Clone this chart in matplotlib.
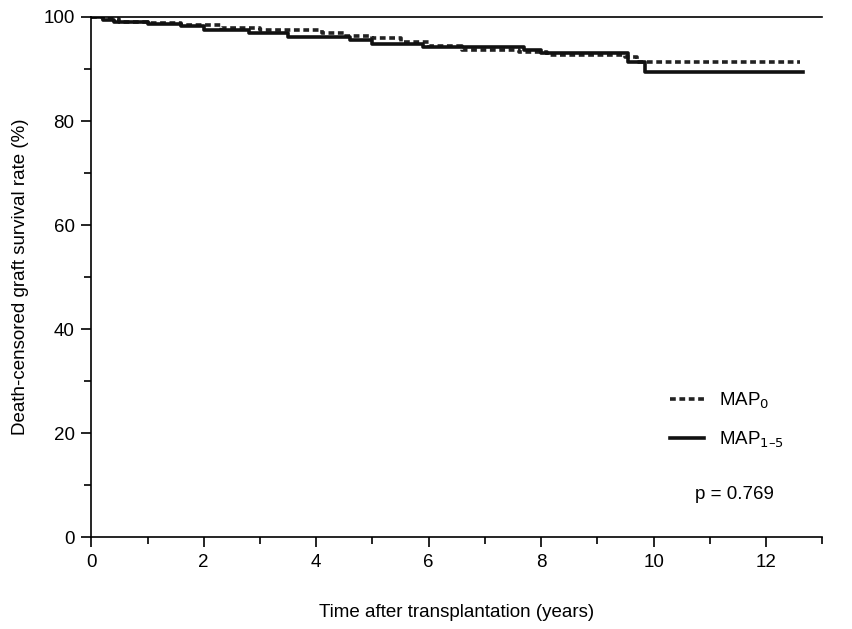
import matplotlib.pyplot as plt
from matplotlib.ticker import MultipleLocator

plt.rcParams['font.family'] = ['Liberation Sans', 'DejaVu Sans']

# step curves (years, survival %)
map0_t = [0, 0.2, 0.5, 1.0, 1.6, 2.3, 3.0, 4.1, 4.5, 5.0, 5.5, 6.0, 6.6, 7.6, 8.1, 9.5, 9.7, 12.6]
map0_s = [100, 99.6, 99.1, 98.8, 98.4, 97.9, 97.5, 97.0, 96.4, 95.9, 95.2, 94.4, 93.7, 93.3, 92.7, 92.3, 91.3, 91.3]
map15_t = [0, 0.2, 0.4, 1.0, 1.6, 2.0, 2.8, 3.5, 4.6, 5.0, 5.9, 7.7, 8.0, 9.55, 9.85, 12.65]
map15_s = [100, 99.5, 99.0, 98.7, 98.2, 97.5, 96.9, 96.2, 95.6, 94.8, 94.2, 93.6, 93.1, 91.3, 89.5, 89.5]

fs = 13.5
fig = plt.figure(figsize=(8.53, 6.29), dpi=100)
ax = fig.add_axes([0.107, 0.146, 0.857, 0.827])
ax.step(map0_t, map0_s, where='post', color='#222222', lw=2.6, linestyle=(0, (1.6, 1.0)), label='MAP$_0$')
ax.step(map15_t, map15_s, where='post', color='#111111', lw=2.6, label='MAP$_{1\u20135}$')

ax.set_xlim(0, 13)
ax.set_ylim(0, 100)
ax.xaxis.set_major_locator(MultipleLocator(2))
ax.xaxis.set_minor_locator(MultipleLocator(1))
ax.yaxis.set_major_locator(MultipleLocator(20))
ax.yaxis.set_minor_locator(MultipleLocator(10))
ax.tick_params(which='both', direction='out', labelsize=fs, width=1.2)
ax.tick_params(which='major', length=7, pad=5)
ax.tick_params(which='minor', length=5)
ax.spines['right'].set_visible(False)
for s in ['top', 'left', 'bottom']:
    ax.spines[s].set_linewidth(1.2)
ax.set_xlabel('Time after transplantation (years)', fontsize=fs, labelpad=24)
ax.set_ylabel('Death-censored graft survival rate (%)', fontsize=fs, labelpad=10)
ax.legend(loc='lower right', bbox_to_anchor=(0.97, 0.135), frameon=False, fontsize=fs,
          handlelength=1.8, labelspacing=1.0)
ax.text(0.88, 0.073, 'p = 0.769', transform=ax.transAxes, fontsize=fs, ha='center')
fig.savefig('out.png')
